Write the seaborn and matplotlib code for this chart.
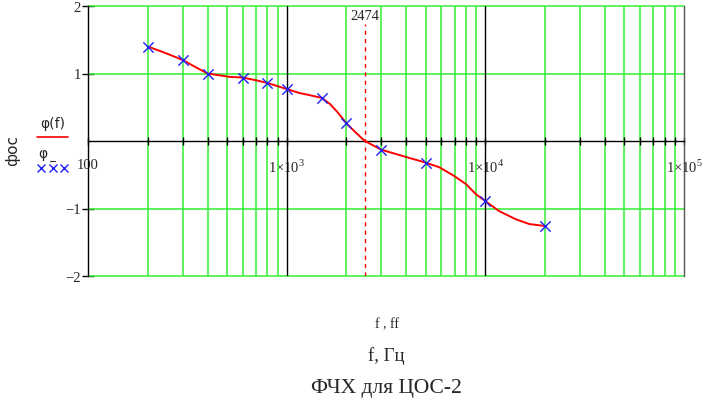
import numpy as np
import pandas as pd
import seaborn as sns
import matplotlib
matplotlib.use("Agg")
import matplotlib.pyplot as plt
from matplotlib.lines import Line2D
from matplotlib.ticker import LogLocator, FixedLocator, FixedFormatter, NullFormatter

# measured points (blue crosses)
freq_pts = [200, 300, 400, 600, 800, 1000, 1500, 2000, 3000, 5000, 10000, 20000]
phi_pts = [1.40, 1.20, 1.00, 0.94, 0.86, 0.77, 0.64, 0.26, -0.13, -0.32, -0.89, -1.26]

# calculated curve phi(f)
freq_curve = [200, 247, 300, 350, 400, 517, 600, 700, 800, 1000, 1162, 1300, 1500,
              1650, 1800, 2000, 2200, 2474, 3000, 3917, 5000, 5875, 6985, 8000, 8980,
              10000, 11750, 14260, 16630, 20000]
phi_curve = [1.40, 1.30, 1.20, 1.09, 1.00, 0.95, 0.94, 0.90, 0.86, 0.77, 0.71, 0.68, 0.64,
             0.55, 0.43, 0.26, 0.14, 0.0, -0.13, -0.23, -0.32, -0.39, -0.52, -0.64, -0.79,
             -0.89, -1.04, -1.16, -1.23, -1.26]

f_cross = 2474
x_ticks = [100, 1000, 10000, 100000]
x_labels = ["100", r"1$\times$10$^{3}$", r"1$\times$10$^{4}$", r"1$\times$10$^{5}$"]
y_ticks = [-2, -1, 1, 2]
y_labels = ["\u22122", "\u22121", "1", "2"]

sns.set_theme(style="white")
plt.rcParams['font.family'] = ['Liberation Serif', 'DejaVu Serif']
plt.rcParams['mathtext.fontset'] = 'custom'
plt.rcParams['mathtext.rm'] = 'Liberation Serif'

green = "#33ee33"

fig = plt.figure(figsize=(7.14, 4.10), dpi=100)
ax = fig.add_axes([88/714, 1 - 277/410, 596/714, 270/410])

df_curve = pd.DataFrame({"f": freq_curve, "phi": phi_curve})
df_pts = pd.DataFrame({"f": freq_pts, "phi": phi_pts})

ax.set_xscale("log")
ax.set_xlim(100, 100000)
ax.set_ylim(-2, 2)

# green grid
ax.xaxis.set_minor_locator(LogLocator(base=10, subs=np.arange(2, 10)))
ax.xaxis.set_minor_formatter(NullFormatter())
ax.grid(which="minor", axis="x", color=green, lw=1.1)
for yv in y_ticks:
    ax.axhline(yv, color=green, lw=1.1, clip_on=False, zorder=1)
for xv in [1000, 10000]:
    ax.axvline(xv, color="black", lw=1, zorder=2)

sns.lineplot(data=df_curve, x="f", y="phi", ax=ax, color="red", lw=1.4, zorder=4)
sns.scatterplot(data=df_pts, x="f", y="phi", ax=ax, marker="x", color="#2020ff",
                s=55, linewidth=1, zorder=5)

# crossover marker: dashed line starts just below its label
ax.axvline(f_cross, ymax=0.935, color="red", lw=1, ls=(0, (3, 3)), zorder=3)
ax.text(f_cross, 1.86, str(f_cross), ha="center", va="center", fontsize=10.5)

# axes lines
ax.spines["top"].set_visible(False)
ax.spines["bottom"].set_position(("data", 0))
ax.spines["bottom"].set_color("black")
ax.spines["bottom"].set_linewidth(1)
ax.spines["left"].set_color("black")
ax.spines["left"].set_linewidth(1)
ax.spines["right"].set_color("#555555")
ax.spines["right"].set_linewidth(1)

ax.xaxis.set_major_locator(FixedLocator(x_ticks))
ax.xaxis.set_major_formatter(FixedFormatter(x_labels))
ax.tick_params(axis="x", which="both", direction="inout", length=6, width=1,
               color="black", bottom=True, labelsize=10.5, pad=9)
ax.set_yticks(y_ticks)
ax.set_yticklabels(y_labels)
ax.tick_params(axis="y", which="both", direction="inout", length=8, width=1,
               color="black", left=True, labelsize=10.5, pad=1)
ax.set_xlabel("")
ax.set_ylabel("")

# left side legend-like labels
fig.text(13/714, 1 - 150/410, "фос", rotation=90, ha="center", va="center", fontsize=11,
         family=["DejaVu Sans"])
fig.text(53/714, 1 - 124/410, "φ(f)", ha="center", va="center", fontsize=10,
         family=["DejaVu Sans"])
fig.add_artist(Line2D([37/714, 68/714], [1 - 137.5/410, 1 - 137.5/410], color="red", lw=1.2))
fig.text(43/714, 1 - 154/410, "φ", ha="center", va="center", fontsize=10,
         family=["DejaVu Sans"])
fig.add_artist(Line2D([50/714, 55/714], [1 - 162/410, 1 - 162/410], color="#333333", lw=0.8))
fig.add_artist(Line2D([41/714, 52.5/714, 64/714], [1 - 169/410] * 3, ls="none",
                      marker="x", color="#2020ff", ms=6, mew=1))

# captions under the plot
fig.text(387/714, 1 - 325/410, "f , ff", ha="center", va="center", fontsize=10)
fig.text(386/714, 1 - 356/410, "f, Гц", ha="center", va="center", fontsize=13.5)
fig.text(386/714, 1 - 389/410, "ФЧХ для ЦОС-2", ha="center", va="center", fontsize=15.5)

fig.savefig("out.png", dpi=100)
